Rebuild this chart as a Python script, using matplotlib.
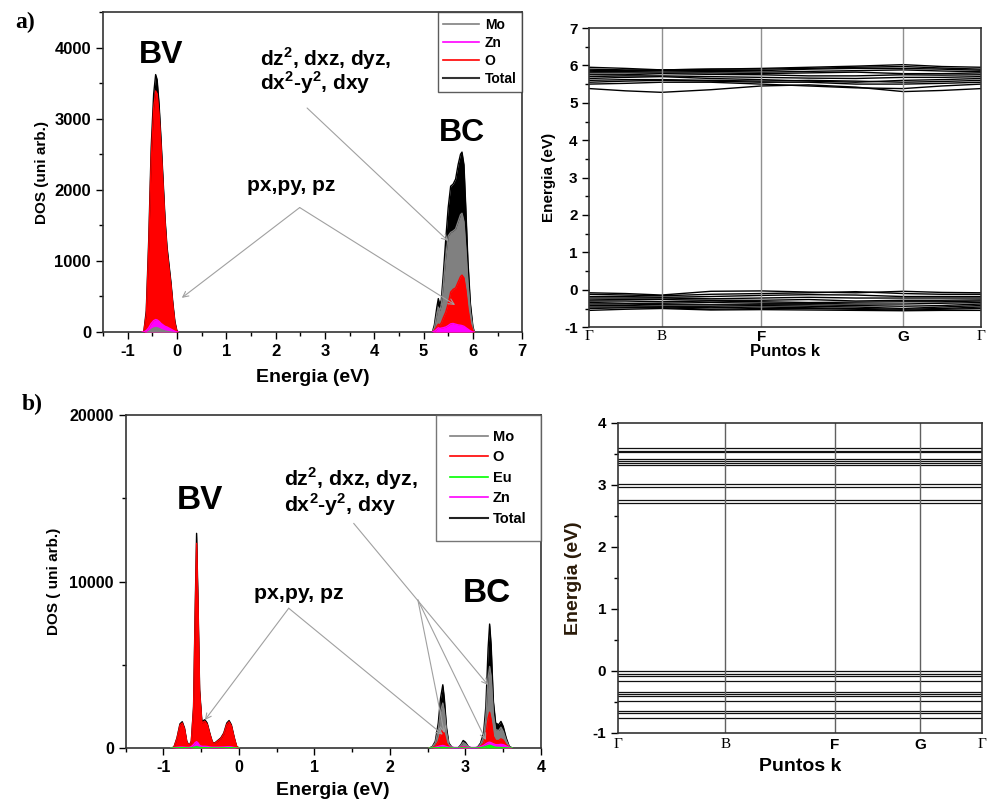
import numpy as np
import matplotlib
matplotlib.use('Agg')
import matplotlib.pyplot as plt
from matplotlib.lines import Line2D
from matplotlib.ticker import MultipleLocator

plt.rcParams['font.family'] = ['Liberation Sans', 'DejaVu Sans']
plt.rcParams['font.weight'] = 'bold'
plt.rcParams['axes.labelweight'] = 'bold'
plt.rcParams['axes.unicode_minus'] = False
plt.rcParams['mathtext.fontset'] = 'custom'
plt.rcParams['mathtext.rm'] = 'Liberation Sans'

# ---------------- datos DOS a) ----------------
e_vb_a = [-0.70, -0.67, -0.62, -0.57, -0.52, -0.47, -0.43, -0.40, -0.36, -0.32, -0.28,
          -0.24, -0.20, -0.16, -0.12, -0.08, -0.04, 0.00, 0.03]
tot_vb_a = [0, 0, 300, 1300, 2600, 3350, 3620, 3550, 3200, 2700, 2150,
            1600, 1200, 950, 700, 400, 150, 20, 0]
o_vb_a = [0, 0, 250, 1200, 2450, 3150, 3390, 3350, 3050, 2580, 2050,
          1520, 1130, 890, 650, 360, 120, 10, 0]
zn_vb_a = [0, 0, 20, 60, 120, 160, 175, 170, 150, 120, 100,
           80, 70, 55, 40, 25, 10, 0, 0]
mo_vb_a = [0, 0, 10, 30, 60, 75, 80, 75, 65, 50, 40,
           30, 25, 20, 15, 10, 5, 0, 0]

e_cb_a = [5.18, 5.22, 5.27, 5.30, 5.33, 5.36, 5.40, 5.45, 5.50, 5.55, 5.60,
          5.65, 5.70, 5.75, 5.78, 5.82, 5.86, 5.90, 5.95, 6.00, 6.03]
tot_cb_a = [0, 100, 350, 470, 380, 450, 800, 1300, 1750, 2050, 2080,
            2150, 2350, 2500, 2530, 2350, 1700, 1000, 400, 80, 0]
mo_cb_a = [0, 60, 250, 350, 300, 380, 650, 1050, 1350, 1400, 1420,
           1450, 1550, 1650, 1670, 1550, 1150, 700, 280, 50, 0]
o_cb_a = [0, 20, 80, 110, 100, 130, 200, 280, 400, 560, 600,
          620, 700, 780, 800, 760, 580, 330, 120, 20, 0]
zn_cb_a = [0, 10, 40, 60, 50, 55, 60, 70, 90, 115, 120,
           110, 100, 95, 90, 80, 60, 40, 15, 0, 0]

# ---------------- datos DOS b) ----------------
e_vb_b = [-0.90, -0.86, -0.82, -0.78, -0.75, -0.72, -0.69, -0.66, -0.63, -0.60, -0.58,
          -0.56, -0.54, -0.52, -0.49, -0.45, -0.42, -0.38, -0.35, -0.32, -0.28,
          -0.24, -0.20, -0.16, -0.13, -0.10, -0.06, -0.03, 0.00]
tot_vb_b = [0, 50, 600, 1450, 1580, 1200, 400, 150, 400, 2500, 8000,
            12900, 8500, 3500, 1600, 1700, 1500, 800, 350, 300, 450,
            600, 900, 1500, 1650, 1400, 600, 100, 0]
o_vb_b = [0, 40, 560, 1380, 1500, 1130, 370, 130, 370, 2350, 7600,
          12300, 8100, 3300, 1500, 1600, 1420, 750, 320, 280, 420,
          560, 850, 1420, 1570, 1330, 560, 90, 0]
mo_vb_b = [0, 5, 20, 40, 45, 35, 20, 10, 20, 40, 60,
           80, 60, 40, 30, 35, 30, 20, 10, 10, 15,
           20, 25, 35, 40, 35, 20, 5, 0]
zn_vb_b = [0, 20, 40, 60, 60, 50, 40, 40, 80, 200, 320,
           380, 300, 150, 100, 100, 90, 60, 50, 50, 50,
           55, 60, 75, 80, 70, 30, 10, 0]
eu_vb_b = [0, 5, 10, 20, 20, 15, 10, 5, 10, 30, 60,
           80, 60, 30, 20, 20, 15, 10, 5, 5, 5,
           10, 10, 15, 20, 15, 10, 0, 0]

e_cb_b = [2.52, 2.56, 2.60, 2.64, 2.67, 2.70, 2.72, 2.75, 2.78, 2.82, 2.86,
          2.90, 2.94, 2.97, 3.00, 3.04, 3.08, 3.12, 3.16, 3.20, 3.24,
          3.27, 3.30, 3.32, 3.34, 3.37, 3.40, 3.44, 3.47, 3.50, 3.54,
          3.58, 3.62]
tot_cb_b = [0, 80, 400, 1500, 3000, 3800, 3000, 1200, 300, 50, 0,
            0, 200, 450, 350, 80, 0, 0, 50, 300, 900,
            2500, 6000, 7450, 6200, 2800, 1500, 1400, 1600, 1300, 600,
            100, 0]
mo_cb_b = [0, 60, 300, 1100, 2200, 2700, 2200, 900, 220, 40, 0,
           0, 150, 330, 250, 60, 0, 0, 35, 220, 650,
           1800, 4200, 4900, 4300, 2000, 1100, 1050, 1250, 1000, 450,
           70, 0]
o_cb_b = [0, 20, 100, 400, 900, 1100, 850, 300, 80, 10, 0,
          0, 40, 80, 60, 15, 0, 0, 15, 100, 300,
          800, 1800, 2150, 1700, 700, 450, 450, 550, 480, 200,
          30, 0]
zn_cb_b = [0, 10, 40, 90, 130, 150, 130, 80, 50, 40, 30,
           30, 40, 60, 50, 40, 30, 30, 40, 80, 150,
           250, 330, 350, 320, 250, 200, 200, 220, 200, 120,
           30, 0]
eu_cb_b = [0, 5, 10, 20, 30, 40, 30, 20, 10, 5, 0,
           0, 5, 10, 5, 0, 0, 0, 5, 20, 50,
           90, 140, 160, 140, 80, 40, 30, 30, 20, 10,
           0, 0]

# ---------------- bandas a) ----------------
k_lab = ['Γ', 'B', 'F', 'G', 'Γ']
k_nodes_a = [0, 0.184, 0.439, 0.801, 1.0]
k_a = [0, 0.092, 0.184, 0.31, 0.439, 0.56, 0.68, 0.801, 0.90, 1.0]
cb_a = [
    [5.38, 5.32, 5.28, 5.35, 5.45, 5.48, 5.42, 5.30, 5.33, 5.38],
    [5.50, 5.52, 5.55, 5.55, 5.50, 5.45, 5.40, 5.38, 5.45, 5.50],
    [5.55, 5.58, 5.60, 5.58, 5.55, 5.55, 5.50, 5.50, 5.52, 5.55],
    [5.60, 5.62, 5.62, 5.60, 5.58, 5.60, 5.58, 5.55, 5.57, 5.60],
    [5.65, 5.68, 5.70, 5.65, 5.62, 5.58, 5.55, 5.60, 5.62, 5.65],
    [5.70, 5.72, 5.72, 5.70, 5.68, 5.66, 5.65, 5.68, 5.68, 5.70],
    [5.75, 5.75, 5.78, 5.76, 5.75, 5.72, 5.72, 5.75, 5.74, 5.75],
    [5.80, 5.80, 5.80, 5.80, 5.78, 5.80, 5.82, 5.78, 5.78, 5.80],
    [5.83, 5.84, 5.85, 5.84, 5.82, 5.84, 5.86, 5.88, 5.85, 5.83],
    [5.87, 5.86, 5.86, 5.86, 5.86, 5.90, 5.92, 5.92, 5.90, 5.87],
    [5.90, 5.88, 5.88, 5.90, 5.90, 5.92, 5.95, 5.97, 5.93, 5.90],
    [5.95, 5.92, 5.88, 5.90, 5.92, 5.95, 5.98, 6.02, 5.97, 5.95],
]
vb_a = [
    [-0.08, -0.10, -0.14, -0.04, -0.03, -0.06, -0.08, -0.04, -0.07, -0.08],
    [-0.12, -0.14, -0.16, -0.12, -0.10, -0.08, -0.05, -0.10, -0.12, -0.12],
    [-0.18, -0.18, -0.20, -0.18, -0.15, -0.13, -0.14, -0.18, -0.18, -0.18],
    [-0.22, -0.22, -0.22, -0.24, -0.22, -0.20, -0.22, -0.22, -0.22, -0.22],
    [-0.27, -0.26, -0.26, -0.28, -0.28, -0.26, -0.30, -0.28, -0.28, -0.27],
    [-0.30, -0.30, -0.32, -0.30, -0.32, -0.34, -0.33, -0.32, -0.32, -0.30],
    [-0.34, -0.36, -0.36, -0.34, -0.36, -0.36, -0.38, -0.38, -0.36, -0.34],
    [-0.38, -0.38, -0.40, -0.40, -0.40, -0.40, -0.42, -0.44, -0.42, -0.38],
    [-0.42, -0.42, -0.44, -0.44, -0.42, -0.44, -0.46, -0.50, -0.46, -0.42],
    [-0.46, -0.46, -0.46, -0.48, -0.46, -0.48, -0.50, -0.52, -0.50, -0.46],
    [-0.50, -0.48, -0.48, -0.52, -0.50, -0.50, -0.52, -0.55, -0.52, -0.50],
    [-0.55, -0.52, -0.50, -0.54, -0.53, -0.54, -0.55, -0.56, -0.55, -0.55],
]

# ---------------- bandas b) (planas) ----------------
k_nodes_b = [0, 0.295, 0.596, 0.829, 1.0]
bandas_b = [3.59, 3.55, 3.53, 3.42, 3.39, 3.35, 3.32, 3.01, 2.97, 2.76, 2.71,
            -0.01, -0.05, -0.09, -0.17, -0.34, -0.37, -0.40, -0.49, -0.65, -0.68, -0.76]

GRIS, MAG, ROJO, VERDE = '#808080', '#ff00ff', '#ff0000', '#00ff00'


def rellenar(ax, e, y, color, z):
    """Area rellena con contorno del mismo color"""
    ax.fill_between(e, 0, y, color=color, lw=0, zorder=z)
    ax.plot(e, y, color=color, lw=1.0, zorder=z + 0.1)


def estilo(ax, size=10):
    for s in ax.spines.values():
        s.set_color('#333333')
        s.set_linewidth(1.2)
    ax.tick_params(which='both', direction='out', top=False, right=False, labelsize=size, width=1)
    ax.tick_params(which='major', length=5)
    ax.tick_params(which='minor', length=3)


def etiquetas_k(ax, pad):
    ax.set_xticks(k_nodes_a if ax is ax2 else k_nodes_b)
    ax.set_xticklabels(k_lab)
    ax.tick_params(axis='x', length=0, pad=pad)
    for lab in ax.get_xticklabels():
        if lab.get_text() in ('Γ', 'B'):
            lab.set_family('Liberation Serif')
            lab.set_weight('normal')


fig = plt.figure(figsize=(9.89, 8), dpi=100)

# ======== a) DOS ========
ax1 = fig.add_axes([0.104, 0.585, 0.424, 0.400])
for e, tot, mo, o, zn in [(e_vb_a, tot_vb_a, mo_vb_a, o_vb_a, zn_vb_a),
                          (e_cb_a, tot_cb_a, mo_cb_a, o_cb_a, zn_cb_a)]:
    rellenar(ax1, e, tot, 'black', 2)
    rellenar(ax1, e, mo, GRIS, 3)
    rellenar(ax1, e, o, ROJO, 4)
    rellenar(ax1, e, zn, MAG, 5)
    mo_arr, zn_arr = np.array(mo), np.array(zn)
    ax1.fill_between(e, 0, mo_arr, where=mo_arr < zn_arr, color=GRIS, lw=0, zorder=6)
ax1.set_xlim(-1.5, 7)
ax1.set_ylim(0, 4500)
ax1.xaxis.set_major_locator(MultipleLocator(1))
ax1.xaxis.set_minor_locator(MultipleLocator(0.5))
ax1.yaxis.set_major_locator(MultipleLocator(1000))
ax1.yaxis.set_minor_locator(MultipleLocator(500))
estilo(ax1, 12)
ax1.set_xlabel('Energia (eV)', fontsize=14, labelpad=7)
ax1.set_ylabel('DOS (uni arb.)', fontsize=11, labelpad=4)
ax1.text(-0.32, 3900, 'BV', fontsize=23, ha='center', va='center')
ax1.text(5.78, 2800, 'BC', fontsize=23, ha='center', va='center')
ax1.text(1.68, 3850, 'dz$^\\mathregular{2}$, dxz, dyz,', fontsize=15, va='center')
ax1.text(1.68, 3500, 'dx$^\\mathregular{2}$-y$^\\mathregular{2}$, dxy', fontsize=15, va='center')
ax1.text(1.42, 2065, 'px,py, pz', fontsize=15, va='center')
flecha = dict(arrowstyle='->', color='#a0a0a0', lw=0.8, shrinkA=0, shrinkB=0)
for xy in [(0.1, 480), (5.64, 380)]:
    ax1.annotate('', xy=xy, xytext=(2.49, 1750), arrowprops=flecha, zorder=8)
ax1.annotate('', xy=(5.5, 1280), xytext=(2.64, 3150), arrowprops=flecha, zorder=8)
h_a = [Line2D([], [], color=GRIS, lw=1.2), Line2D([], [], color=MAG, lw=1.2),
       Line2D([], [], color=ROJO, lw=1.2), Line2D([], [], color='#333333', lw=1.5)]
leg = ax1.legend(h_a, ['Mo', 'Zn', 'O', 'Total'], loc='upper right', fontsize=10,
                 frameon=True, fancybox=False, edgecolor='#333333', borderaxespad=0,
                 handlelength=2.6, labelspacing=0.3, handletextpad=0.4, borderpad=0.4)
leg.get_frame().set_linewidth(1.0)
fig.text(0.015, 0.972, 'a)', fontsize=17, family='Liberation Serif', weight='bold', va='center')

# ======== a) bandas ========
ax2 = fig.add_axes([0.596, 0.591, 0.396, 0.374])
for b in cb_a + vb_a:
    ax2.plot(k_a, b, color='black', lw=1.0)
for k in k_nodes_a[1:-1]:
    ax2.axvline(k, color='#909090', lw=1.0)
ax2.set_xlim(0, 1)
ax2.set_ylim(-1, 7)
ax2.yaxis.set_major_locator(MultipleLocator(1))
ax2.yaxis.set_minor_locator(MultipleLocator(0.5))
estilo(ax2, 11)
etiquetas_k(ax2, 2)
ax2.set_ylabel('Energia (eV)', fontsize=11, labelpad=6)
ax2.set_xlabel('Puntos k', fontsize=12, labelpad=0)

# ======== b) DOS ========
ax3 = fig.add_axes([0.127, 0.065, 0.420, 0.416])
for e, tot, mo, o, eu, zn in [(e_vb_b, tot_vb_b, mo_vb_b, o_vb_b, eu_vb_b, zn_vb_b),
                              (e_cb_b, tot_cb_b, mo_cb_b, o_cb_b, eu_cb_b, zn_cb_b)]:
    rellenar(ax3, e, tot, 'black', 2)
    rellenar(ax3, e, mo, GRIS, 3)
    rellenar(ax3, e, o, ROJO, 4)
    rellenar(ax3, e, zn, MAG, 5)
    rellenar(ax3, e, eu, VERDE, 6)
ax3.set_xlim(-1.5, 4)
ax3.set_ylim(0, 20000)
ax3.xaxis.set_major_locator(MultipleLocator(1))
ax3.xaxis.set_minor_locator(MultipleLocator(0.5))
ax3.yaxis.set_major_locator(MultipleLocator(10000))
ax3.yaxis.set_minor_locator(MultipleLocator(5000))
estilo(ax3, 11.5)
ax3.set_xlabel('Energia (eV)', fontsize=14, labelpad=5)
ax3.set_ylabel('DOS ( uni arb.)', fontsize=11, labelpad=6)
ax3.text(-0.52, 14900, 'BV', fontsize=24, ha='center', va='center')
ax3.text(3.28, 9300, 'BC', fontsize=24, ha='center', va='center')
ax3.text(0.6, 16200, 'dz$^\\mathregular{2}$, dxz, dyz,', fontsize=15.3, va='center')
ax3.text(0.6, 14600, 'dx$^\\mathregular{2}$-y$^\\mathregular{2}$, dxy', fontsize=15.3, va='center')
ax3.text(0.2, 9300, 'px,py, pz', fontsize=15.3, va='center')
for xy in [(-0.45, 1680), (2.7, 800)]:
    ax3.annotate('', xy=xy, xytext=(0.66, 8400), arrowprops=flecha, zorder=8)
ax3.annotate('', xy=(3.3, 3780), xytext=(1.52, 13500), arrowprops=flecha, zorder=8)
for xy in [(2.72, 900), (3.27, 480)]:
    ax3.annotate('', xy=xy, xytext=(2.37, 8900), arrowprops=flecha, zorder=8)
h_b = [Line2D([], [], color=GRIS, lw=1.2), Line2D([], [], color=ROJO, lw=1.2),
       Line2D([], [], color=VERDE, lw=1.2), Line2D([], [], color=MAG, lw=1.2),
       Line2D([], [], color='#222222', lw=1.5)]
leg = ax3.legend(h_b, ['Mo', 'O', 'Eu', 'Zn', 'Total'], loc='upper right', fontsize=10.5,
                 frameon=True, fancybox=False, edgecolor='#555555', borderaxespad=0,
                 handlelength=2.6, labelspacing=0.45, handletextpad=0.3, borderpad=1.0)
leg.get_frame().set_linewidth(1.0)
fig.text(0.022, 0.494, 'b)', fontsize=17, family='Liberation Serif', weight='bold', va='center')

# ======== b) bandas ========
ax4 = fig.add_axes([0.625, 0.084, 0.368, 0.3875])
for b in bandas_b:
    ax4.plot([0, 1], [b, b], color='#111111', lw=0.9)
for k in k_nodes_b[1:-1]:
    ax4.axvline(k, color='#606060', lw=1.0)
ax4.set_xlim(0, 1)
ax4.set_ylim(-1, 4)
ax4.yaxis.set_major_locator(MultipleLocator(1))
ax4.yaxis.set_minor_locator(MultipleLocator(0.5))
estilo(ax4, 11)
etiquetas_k(ax4, 4)
ax4.set_ylabel('Energia (eV)', fontsize=14, labelpad=8, color='#2a1a08')
ax4.set_xlabel('Puntos k', fontsize=14, labelpad=4)

fig.savefig('out.png', dpi=100)
